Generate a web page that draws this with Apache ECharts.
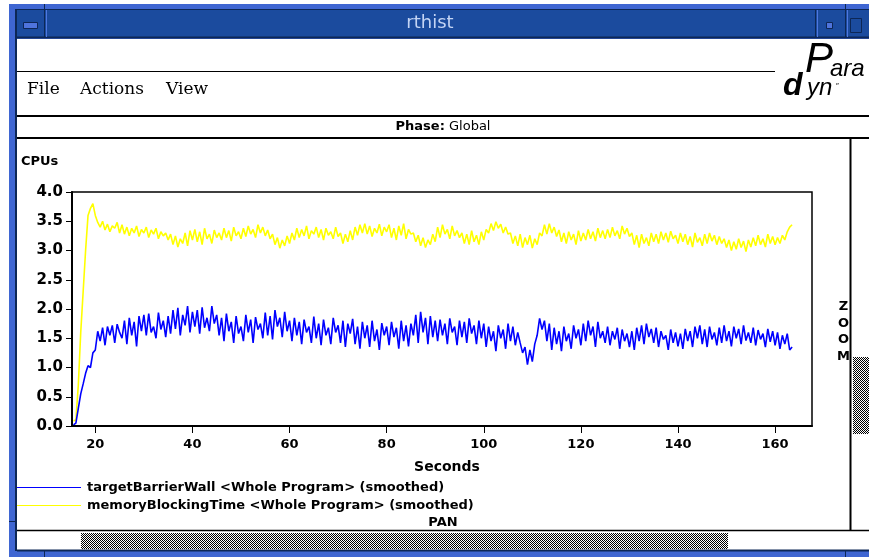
<!DOCTYPE html>
<html><head><meta charset="utf-8">
<script src="https://cdn.jsdelivr.net/npm/echarts@6/dist/echarts.min.js"></script>
<style>html,body{margin:0;padding:0;background:#fff;overflow:hidden}#c{width:869px;height:557px}</style>
</head><body><div id="c"></div>
<script>
// ---- data ----
const seriesNames = ['targetBarrierWall <Whole Program> (smoothed)', 'memoryBlockingTime <Whole Program> (smoothed)'];
const seriesColors = ['#0000ff', '#ffff00'];
const startTime = 15.5;   // seconds of first sample
const sampleStep = 0.5;   // seconds between samples
const xTickValues = [20, 40, 60, 80, 100, 120, 140, 160];
const yTickValues = [0, 0.5, 1, 1.5, 2, 2.5, 3, 3.5, 4];

const targetBarrierWall = [
 0.02,0.05,0.30,0.55,0.72,0.90,1.03,1.00,1.25,1.30,
 1.62,1.45,1.68,1.38,1.70,1.55,1.72,1.42,1.74,1.60,
 1.50,1.80,1.40,1.85,1.55,1.78,1.36,1.88,1.62,1.90,
 1.55,1.92,1.60,1.70,1.50,1.94,1.65,1.80,1.52,1.88,
 1.58,1.98,1.66,2.02,1.55,1.90,1.72,2.05,1.60,1.95,
 1.70,1.98,1.58,2.03,1.68,1.85,1.62,2.05,1.75,1.90,
 1.55,1.85,1.45,1.92,1.62,1.78,1.42,1.88,1.58,1.70,
 1.45,1.90,1.60,1.82,1.42,1.86,1.65,1.75,1.50,1.94,
 1.55,1.88,1.48,1.98,1.70,1.85,1.52,1.95,1.62,1.80,
 1.45,1.85,1.55,1.78,1.40,1.82,1.60,1.70,1.42,1.87,
 1.50,1.75,1.38,1.82,1.55,1.68,1.40,1.85,1.60,1.72,
 1.42,1.80,1.35,1.75,1.58,1.83,1.40,1.70,1.32,1.78,
 1.50,1.72,1.35,1.80,1.45,1.65,1.30,1.76,1.55,1.70,
 1.38,1.78,1.52,1.68,1.32,1.80,1.45,1.72,1.36,1.75,
 1.55,1.90,1.42,1.95,1.60,1.85,1.40,1.88,1.52,1.80,
 1.45,1.82,1.55,1.75,1.40,1.84,1.60,1.70,1.38,1.80,
 1.52,1.78,1.42,1.84,1.58,1.72,1.40,1.80,1.50,1.75,
 1.35,1.70,1.45,1.62,1.28,1.72,1.50,1.65,1.32,1.75,
 1.45,1.70,1.38,1.60,1.42,1.25,1.35,1.05,1.30,1.10,
 1.40,1.55,1.84,1.65,1.80,1.45,1.75,1.30,1.68,1.40,
 1.62,1.28,1.70,1.45,1.58,1.32,1.72,1.50,1.65,1.38,
 1.75,1.45,1.80,1.55,1.70,1.35,1.78,1.50,1.62,1.42,
 1.70,1.38,1.62,1.48,1.68,1.32,1.65,1.45,1.58,1.35,
 1.62,1.30,1.68,1.45,1.72,1.40,1.75,1.52,1.66,1.42,
 1.68,1.35,1.62,1.48,1.55,1.30,1.65,1.42,1.60,1.36,
 1.58,1.32,1.66,1.45,1.62,1.35,1.70,1.50,1.72,1.40,
 1.65,1.35,1.70,1.48,1.60,1.38,1.68,1.42,1.72,1.45,
 1.62,1.36,1.70,1.50,1.66,1.40,1.72,1.46,1.60,1.42,
 1.68,1.38,1.64,1.48,1.58,1.35,1.66,1.44,1.62,1.38,
 1.60,1.32,1.55,1.40,1.58,1.30,1.35
];

const memoryBlockingTime = [
 0.09,0.10,0.70,1.60,2.30,3.00,3.60,3.72,3.80,3.60,
 3.48,3.40,3.50,3.35,3.45,3.32,3.42,3.38,3.48,3.30,
 3.44,3.28,3.40,3.25,3.38,3.30,3.42,3.24,3.36,3.30,
 3.40,3.22,3.35,3.28,3.38,3.20,3.32,3.25,3.30,3.18,
 3.28,3.10,3.25,3.06,3.20,3.12,3.30,3.08,3.34,3.18,
 3.36,3.15,3.32,3.10,3.38,3.20,3.28,3.12,3.35,3.22,
 3.30,3.18,3.38,3.22,3.34,3.16,3.40,3.25,3.32,3.20,
 3.38,3.24,3.42,3.28,3.36,3.22,3.44,3.30,3.40,3.25,
 3.35,3.20,3.28,3.10,3.22,3.04,3.18,3.08,3.25,3.12,
 3.30,3.18,3.38,3.22,3.36,3.25,3.42,3.20,3.34,3.28,
 3.40,3.22,3.36,3.18,3.38,3.26,3.32,3.20,3.40,3.24,
 3.30,3.12,3.28,3.15,3.34,3.18,3.40,3.26,3.44,3.30,
 3.46,3.28,3.42,3.24,3.38,3.30,3.45,3.25,3.40,3.32,
 3.44,3.22,3.38,3.18,3.42,3.26,3.46,3.20,3.36,3.28,
 3.30,3.15,3.26,3.08,3.22,3.05,3.18,3.10,3.28,3.15,
 3.40,3.22,3.44,3.28,3.36,3.20,3.42,3.25,3.34,3.22,
 3.30,3.12,3.28,3.10,3.34,3.15,3.26,3.10,3.32,3.18,
 3.36,3.30,3.46,3.34,3.49,3.38,3.45,3.30,3.40,3.28,
 3.30,3.12,3.25,3.08,3.28,3.05,3.22,3.10,3.26,3.04,
 3.20,3.10,3.30,3.25,3.44,3.28,3.46,3.30,3.40,3.24,
 3.35,3.15,3.30,3.12,3.32,3.18,3.28,3.10,3.34,3.16,
 3.30,3.18,3.36,3.20,3.32,3.16,3.38,3.22,3.34,3.20,
 3.36,3.22,3.40,3.25,3.34,3.20,3.42,3.28,3.38,3.24,
 3.30,3.10,3.26,3.05,3.28,3.12,3.22,3.08,3.30,3.15,
 3.28,3.12,3.32,3.18,3.30,3.14,3.33,3.20,3.26,3.12,
 3.30,3.15,3.28,3.10,3.24,3.06,3.30,3.14,3.22,3.08,
 3.28,3.12,3.30,3.16,3.26,3.10,3.24,3.12,3.20,3.05,
 3.18,3.00,3.15,3.02,3.20,3.05,3.16,2.98,3.18,3.06,
 3.22,3.08,3.26,3.10,3.20,3.06,3.28,3.12,3.24,3.10,
 3.22,3.12,3.26,3.18,3.32,3.40,3.44
];

// ---- build ----
const sampleTimes = targetBarrierWall.map((_, i) => startTime + i * sampleStep);
const pairs = (vals) => vals.map((v, i) => [sampleTimes[i], v]);

function stippleCanvas() {
  const c = document.createElement('canvas');
  c.width = 2; c.height = 2;
  const g = c.getContext('2d');
  g.fillStyle = '#ffffff'; g.fillRect(0, 0, 2, 2);
  g.fillStyle = '#000000'; g.fillRect(0, 0, 1, 1); g.fillRect(1, 1, 1, 1);
  return c;
}
const stipple = { image: stippleCanvas(), repeat: 'repeat' };

const LIGHT = '#3f66d2', TITLE = '#1b4b9e', DARK = '#0d2756';
const rect = (x, y, w, h, fill, stroke, lw) => ({ type: 'rect', shape: { x, y, width: w, height: h }, style: { fill: fill || 'none', stroke: stroke || null, lineWidth: lw || 1 }, silent: true });
const line = (x1, y1, x2, y2, stroke, lw) => ({ type: 'line', shape: { x1, y1, x2, y2 }, style: { stroke, lineWidth: lw || 1 }, silent: true });
const text = (x, y, t, font, fill, align, vAlign, extra) => ({ type: 'text', x, y, style: Object.assign({ text: t, font, fill: fill || '#000', textAlign: align || 'left', textVerticalAlign: vAlign || 'middle' }, extra || {}), silent: true });

const chrome = [
  // window frame
  rect(9, 4, 860, 553, LIGHT),
  rect(17, 10, 852, 27, TITLE),
  line(15, 9.5, 869, 9.5, DARK, 1),
  line(17, 37.5, 869, 37.5, DARK, 2),
  line(16, 9, 16, 551, DARK, 2),
  line(44.5, 4, 44.5, 38, DARK, 1),
  line(46.5, 10, 46.5, 37, '#4f78e0', 1),
  line(815.5, 10, 815.5, 38, DARK, 1),
  line(817.5, 10, 817.5, 37, '#4f78e0', 1),
  line(845.5, 4, 845.5, 38, DARK, 1),
  line(847.5, 10, 847.5, 37, '#4f78e0', 1),
  rect(23.5, 22.5, 14, 6, '#4f74dc', DARK, 1),
  rect(826.5, 22.5, 6, 6, '#4f74dc', DARK, 1),
  rect(850.5, 18.5, 11, 14, null, DARK, 1),
  text(430, 23, 'rthist', '18px "DejaVu Sans"', '#c4d4f4', 'center'),
  // content area
  rect(17, 39, 852, 511, '#ffffff'),
  line(9, 521.5, 15, 521.5, DARK, 1),
  line(17, 550.5, 869, 550.5, DARK, 2),
  line(44.5, 551, 44.5, 557, DARK, 1),
  line(845.5, 551, 845.5, 557, DARK, 1),
  // menu bar
  line(17, 71.5, 775, 71.5, '#000', 1),
  text(27, 90, 'File', '17px "DejaVu Serif"', '#000'),
  text(80, 90, 'Actions', '17px "DejaVu Serif"', '#000'),
  text(166, 90, 'View', '17px "DejaVu Serif"', '#000'),
  // logo
  text(805, 81, 'P', 'italic 42px "Liberation Sans Narrow", "Liberation Sans"', '#000', 'left', 'bottom'),
  text(830, 81, 'ara', 'italic 24px "Liberation Sans"', '#000', 'left', 'bottom'),
  text(783, 102, 'd', 'italic bold 32px "Liberation Sans"', '#000', 'left', 'bottom'),
  text(807, 100, 'yn', 'italic 24px "Liberation Sans"', '#000', 'left', 'bottom'),
  text(836, 86, '\u2033', '8px "Liberation Sans"', '#000', 'left', 'middle'),
  // phase bar
  line(17, 116, 869, 116, '#000', 2),
  { type: 'text', x: 443, y: 127, silent: true, style: { text: '{b|Phase:} Global', font: '13px "DejaVu Sans"', fill: '#000', textAlign: 'center', textVerticalAlign: 'middle', rich: { b: { font: 'bold 13px "DejaVu Sans"', fill: '#000' } } } },
  line(17, 138, 869, 138, '#000', 2),
  // right zoom panel
  line(850.5, 139, 850.5, 530, '#000', 2),
  text(843.5, 307, 'Z', 'bold 13px "DejaVu Sans"', '#000', 'center'),
  text(843.5, 324, 'O', 'bold 13px "DejaVu Sans"', '#000', 'center'),
  text(843.5, 340, 'O', 'bold 13px "DejaVu Sans"', '#000', 'center'),
  text(843.5, 357, 'M', 'bold 13px "DejaVu Sans"', '#000', 'center'),
  rect(853, 357, 16, 77, stipple),
  // bottom pan
  line(17, 530.5, 869, 530.5, '#000', 1.5),
  text(443, 523, 'PAN', 'bold 13px "DejaVu Sans"', '#000', 'center'),
  rect(81, 533, 647, 16, stipple),
  // axis captions
  text(21, 162, 'CPUs', 'bold 13px "DejaVu Sans"', '#000'),
  text(447, 467, 'Seconds', 'bold 14px "DejaVu Sans"', '#000', 'center'),
  // legend
  line(17, 487.5, 81, 487.5, seriesColors[0], 1),
  text(87, 488, seriesNames[0], 'bold 13px "DejaVu Sans"', '#000'),
  line(17, 505.5, 81, 505.5, seriesColors[1], 1),
  text(87, 506, seriesNames[1], 'bold 13px "DejaVu Sans"', '#000')
];

const chart = echarts.init(document.getElementById('c'), null, { renderer: 'canvas' });
chart.setOption({
  animation: false,
  backgroundColor: '#ffffff',
  grid: { left: 72, top: 192, width: 740, height: 234, show: true, borderColor: '#000', borderWidth: 1.5, backgroundColor: 'transparent', z: 3 },
  xAxis: {
    type: 'value', min: 15.2, max: 167.6,
    axisLine: { show: true, onZero: false, lineStyle: { color: '#000', width: 2 } },
    axisTick: { show: true, length: 7, lineStyle: { color: '#000', width: 1 }, customValues: xTickValues },
    axisLabel: { color: '#000', fontFamily: 'DejaVu Sans', fontWeight: 'bold', fontSize: 13, margin: 12, customValues: xTickValues, formatter: v => String(v) },
    splitLine: { show: false }
  },
  yAxis: {
    type: 'value', min: 0, max: 4, interval: 0.5,
    axisLine: { show: true, lineStyle: { color: '#000', width: 2 } },
    axisTick: { show: true, length: 6, lineStyle: { color: '#000', width: 1 } },
    axisLabel: { color: '#000', fontFamily: 'DejaVu Sans', fontWeight: 'bold', fontSize: 15, margin: 9, formatter: v => v.toFixed(1) },
    splitLine: { show: false }
  },
  series: [
    { name: seriesNames[1], type: 'line', data: pairs(memoryBlockingTime), showSymbol: false, symbol: 'none', lineStyle: { color: seriesColors[1], width: 1.6 }, itemStyle: { color: seriesColors[1] }, z: 2 },
    { name: seriesNames[0], type: 'line', data: pairs(targetBarrierWall), showSymbol: false, symbol: 'none', lineStyle: { color: seriesColors[0], width: 1.6 }, itemStyle: { color: seriesColors[0] }, z: 2 }
  ],
  graphic: { elements: chrome.map(e => Object.assign({ z: -10 }, e)) }
});
</script></body></html>
